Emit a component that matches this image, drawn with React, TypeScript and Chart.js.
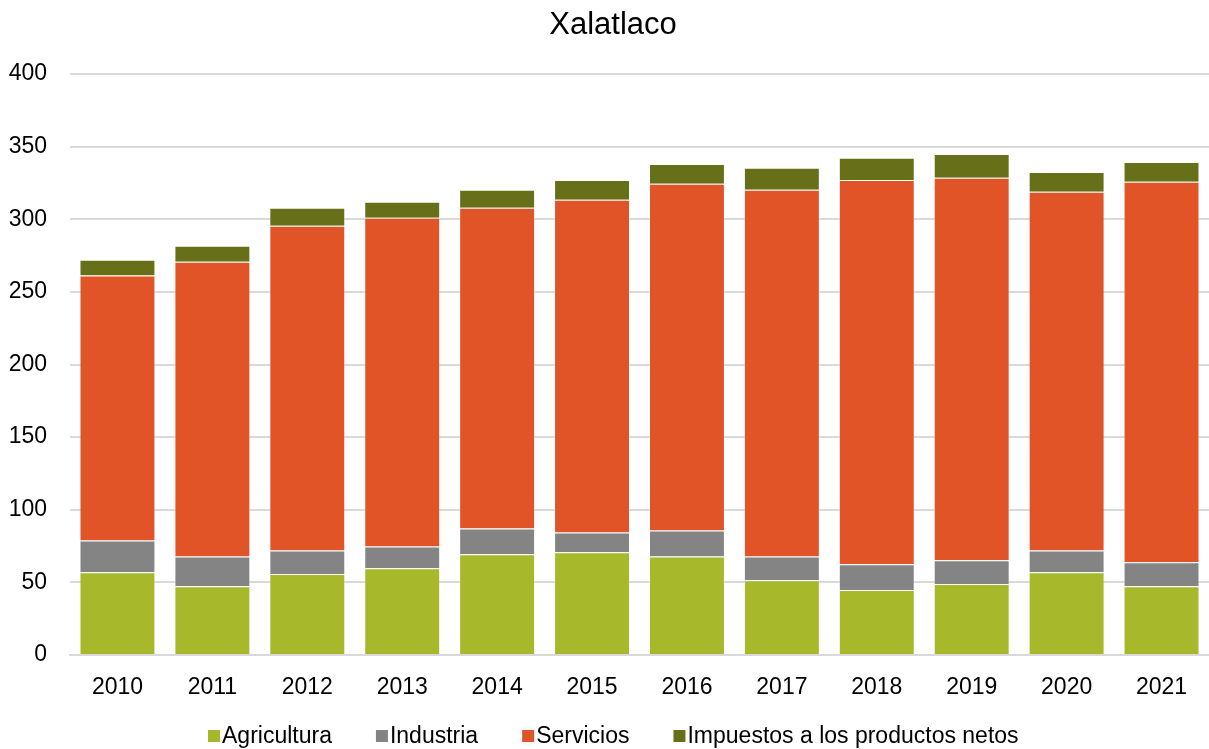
import React, { useEffect, useRef } from "react";
import { Chart, registerables } from "chart.js";

Chart.register(...registerables);

const years = ["2010", "2011", "2012", "2013", "2014", "2015", "2016", "2017", "2018", "2019", "2020", "2021"];
const agricultura = [57.0, 47.4, 55.7, 59.8, 69.4, 70.8, 67.8, 51.5, 44.7, 48.8, 57.0, 47.4];
const industria = [21.8, 20.4, 16.3, 14.9, 17.7, 13.5, 17.9, 16.3, 17.8, 16.5, 15.0, 16.5];
const servicios = [182.4, 203.0, 223.5, 226.3, 220.8, 229.1, 238.7, 252.5, 264.6, 263.2, 246.9, 261.9];
const impuestos = [11.0, 11.0, 12.4, 11.0, 12.4, 13.7, 13.7, 15.1, 15.2, 16.5, 13.7, 13.7];
const yTicks = [0, 50, 100, 150, 200, 250, 300, 350, 400];
const chartTitle = "Xalatlaco";

const FONT = '"Liberation Sans", Arial, sans-serif';

const titleLegendPlugin = {
  id: "titleLegend",
  afterDraw(chart: any) {
    const ctx = chart.ctx;
    ctx.save();
    // title
    ctx.font = `31px ${FONT}`;
    ctx.fillStyle = "#000";
    ctx.textAlign = "center";
    ctx.textBaseline = "alphabetic";
    ctx.fillText(chartTitle, 613, 33.5);
    // legend
    ctx.font = `23px ${FONT}`;
    ctx.textAlign = "left";
    ctx.textBaseline = "middle";
    const box = 12;
    const gap = 2;
    const spacing = 44;
    let x = 208;
    const y = 736;
    for (const ds of chart.data.datasets) {
      const w = ctx.measureText(ds.label).width;
      ctx.fillStyle = ds.backgroundColor;
      ctx.fillRect(x, y - 6, box, box);
      x += box + gap;
      ctx.fillStyle = "#000";
      ctx.fillText(ds.label, x, y + 1);
      x += w + spacing;
    }
    ctx.restore();
  },
};

export default function App() {
  const ref = useRef<HTMLCanvasElement | null>(null);
  useEffect(() => {
    if (!ref.current) return;
    const border = "rgba(255,255,255,0.35)";
    const chart = new Chart(ref.current, {
      type: "bar",
      data: {
        labels: years,
        datasets: [
          { label: "Agricultura", data: agricultura, backgroundColor: "#A7B82A", borderColor: border, borderWidth: 1 },
          { label: "Industria", data: industria, backgroundColor: "#848484", borderColor: border, borderWidth: 1 },
          { label: "Servicios", data: servicios, backgroundColor: "#E05428", borderColor: border, borderWidth: 1 },
          { label: "Impuestos a los productos netos", data: impuestos, backgroundColor: "#676F19", borderColor: border, borderWidth: 1 },
        ],
      },
      options: {
        responsive: false,
        animation: false,
        layout: { padding: { left: 0, right: 0, top: 74, bottom: 28.4 } },
        datasets: { bar: { categoryPercentage: 0.8, barPercentage: 1 } },
        plugins: {
          legend: { display: false },
          tooltip: { enabled: false },
          title: { display: false },
        },
        scales: {
          x: {
            stacked: true,
            grid: { display: false, drawTicks: false },
            border: { display: true, color: "#d9d9d9", width: 2 },
            ticks: { color: "#000", font: { family: FONT, size: 23 }, padding: 19, maxRotation: 0 },
          },
          y: {
            stacked: true,
            min: 0,
            max: 400,
            afterFit(scale: any) {
              scale.width = 70;
            },
            afterBuildTicks(scale: any) {
              scale.ticks = yTicks.map((v) => ({ value: v }));
            },
            grid: { color: "#d9d9d9", lineWidth: 2, drawTicks: false },
            border: { display: false },
            ticks: { color: "#000", font: { family: FONT, size: 23 }, padding: 23 },
          },
        },
      },
      plugins: [titleLegendPlugin],
    });
    return () => chart.destroy();
  }, []);
  return (
    <div style={{ position: "absolute", left: 0, top: 0, width: 1209, height: 749, background: "#fff" }}>
      <canvas ref={ref} width={1209} height={749} style={{ display: "block" }} />
    </div>
  );
}
